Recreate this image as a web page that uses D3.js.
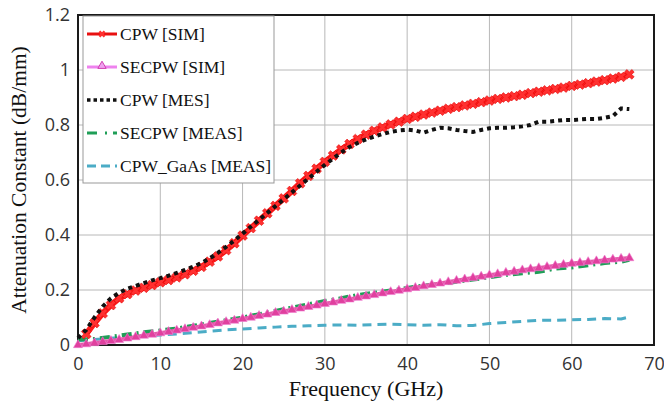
<!DOCTYPE html>
<html>
<head>
<meta charset="utf-8">
<script src="https://cdn.jsdelivr.net/npm/d3@7"></script>
<style>
  body { margin: 0; background: #fff; }
  svg { display: block; }
</style>
</head>
<body>
<svg width="664" height="406"></svg>
<script>
// frequency grid (GHz) shared by the 1 GHz series
var freq = d3.range(0, 68);

// CPW [SIM] - starts at 1 GHz
var cpwSim = [null,0.04,0.08,0.115,0.145,0.17,0.185,0.198,0.208,0.218,0.228,0.236,0.246,0.257,0.27,0.284,0.303,0.322,0.345,0.37,0.398,
  0.425,0.452,0.479,0.506,0.533,0.56,0.588,0.615,0.641,0.666,0.689,0.711,0.731,0.749,0.765,0.779,0.791,0.802,0.812,0.822,
  0.83,0.838,0.845,0.852,0.859,0.865,0.871,0.877,0.883,0.889,0.895,0.9,0.905,0.91,0.916,0.921,0.926,0.931,0.936,0.942,
  0.947,0.952,0.958,0.963,0.969,0.975,0.984];

// SECPW [SIM]
var secpwSim = [0,0.003,0.007,0.011,0.015,0.019,0.024,0.029,0.034,0.038,0.043,0.048,0.053,0.058,0.063,0.068,0.073,0.079,0.084,0.089,0.095,
  0.1,0.106,0.111,0.117,0.122,0.128,0.133,0.139,0.144,0.15,0.155,0.161,0.166,0.172,0.177,0.182,0.188,0.193,0.198,0.203,
  0.208,0.214,0.219,0.224,0.229,0.234,0.239,0.244,0.249,0.254,0.258,0.263,0.267,0.272,0.276,0.28,0.284,0.288,0.292,0.296,
  0.299,0.302,0.305,0.308,0.311,0.314,0.316];

// CPW [MES]
var cpwMes = [0.025,0.055,0.1,0.14,0.17,0.19,0.205,0.215,0.225,0.235,0.243,0.252,0.262,0.273,0.285,0.298,0.315,0.335,0.357,0.38,0.405,
  0.43,0.455,0.48,0.505,0.53,0.555,0.58,0.605,0.63,0.655,0.678,0.7,0.72,0.735,0.748,0.758,0.767,0.775,0.78,0.783,
  0.78,0.772,0.782,0.79,0.788,0.782,0.778,0.775,0.782,0.788,0.79,0.79,0.792,0.795,0.8,0.812,0.812,0.815,0.818,0.818,
  0.82,0.822,0.822,0.826,0.832,0.86,0.858];

// measured series sampled every 2 GHz
var freq2 = [0,2,4,6,8,10,12,14,16,18,20,22,24,26,28,30,32,34,36,38,40,42,44,46,48,50,52,54,56,58,60,62,64,66,67];
var secpwMeas = [0.02,0.022,0.03,0.038,0.046,0.053,0.06,0.07,0.08,0.09,0.1,0.112,0.124,0.136,0.148,0.16,0.17,0.182,0.19,0.198,0.207,
  0.216,0.222,0.23,0.238,0.246,0.255,0.261,0.266,0.278,0.282,0.29,0.298,0.303,0.31];
var gaasMeas = [0.015,0.02,0.025,0.03,0.033,0.036,0.04,0.045,0.05,0.055,0.058,0.062,0.065,0.068,0.07,0.072,0.073,0.072,0.074,0.076,0.074,
  0.072,0.074,0.07,0.071,0.078,0.082,0.086,0.09,0.09,0.092,0.093,0.096,0.095,0.102];

var xTicks = [0,10,20,30,40,50,60,70];
var yTicks = [0,0.2,0.4,0.6,0.8,1,1.2];

var svg = d3.select("svg"),
    margin = {top: 15, right: 10, bottom: 61, left: 78},
    width = +svg.attr("width") - margin.left - margin.right,
    height = +svg.attr("height") - margin.top - margin.bottom,
    g = svg.append("g").attr("transform", "translate(" + margin.left + "," + margin.top + ")");

var x = d3.scaleLinear().domain([0, 70]).range([0, width]);
var y = d3.scaleLinear().domain([0, 1.2]).range([height, 0]);

// grid
g.append("g").selectAll("line").data(xTicks.slice(1, -1)).enter().append("line")
    .attr("x1", function(d) { return x(d); }).attr("x2", function(d) { return x(d); })
    .attr("y1", 0).attr("y2", height)
    .attr("stroke", "#b8b8b8").attr("stroke-width", 1);
g.append("g").selectAll("line").data(yTicks.slice(1, -1)).enter().append("line")
    .attr("y1", function(d) { return y(d); }).attr("y2", function(d) { return y(d); })
    .attr("x1", 0).attr("x2", width)
    .attr("stroke", "#b8b8b8").attr("stroke-width", 1);

// axes labels
var xAxis = g.append("g")
    .attr("transform", "translate(0," + height + ")")
    .call(d3.axisBottom(x).tickValues(xTicks).tickSize(0).tickPadding(12).tickFormat(d3.format("d")));
var yAxis = g.append("g")
    .call(d3.axisLeft(y).tickValues(yTicks).tickSize(0).tickPadding(8).tickFormat(function(d) { return d3.format("")(d); }));
[xAxis, yAxis].forEach(function(a) {
  a.select(".domain").remove();
  a.selectAll("text").attr("font-family", "'Open Sans', sans-serif").attr("font-size", 18).attr("fill", "#333");
});

// plot frame
g.append("rect").attr("width", width).attr("height", height)
    .attr("fill", "none").attr("stroke", "#1a1a1a").attr("stroke-width", 2);

function lineFor(xs) {
  return d3.line()
    .defined(function(d) { return d != null; })
    .x(function(d, i) { return x(xs[i]); })
    .y(function(d) { return y(d); });
}

var plot = g.append("g");

// CPW_GaAs [MEAS]
plot.append("path").datum(gaasMeas).attr("d", lineFor(freq2))
    .attr("fill", "none").attr("stroke", "#4bacc6").attr("stroke-width", 3)
    .attr("stroke-dasharray", "9,6");

// SECPW [MEAS]
plot.append("path").datum(secpwMeas).attr("d", lineFor(freq2))
    .attr("fill", "none").attr("stroke", "#1f9e57").attr("stroke-width", 4)
    .attr("stroke-dasharray", "10,5,2,5");

// SECPW [SIM]
plot.append("path").datum(secpwSim).attr("d", lineFor(freq))
    .attr("fill", "none").attr("stroke", "#e45aa8").attr("stroke-width", 4);
plot.append("g").selectAll("path").data(secpwSim).enter().append("path")
    .attr("transform", function(d, i) { return "translate(" + x(freq[i]) + "," + y(d) + ")"; })
    .attr("d", d3.symbol().type(d3.symbolTriangle).size(36))
    .attr("fill", "#e0409e").attr("stroke", "#f07ad0").attr("stroke-width", 0.6);

// CPW [SIM]
plot.append("path").datum(cpwSim).attr("d", lineFor(freq))
    .attr("fill", "none").attr("stroke", "#ff1a1a").attr("stroke-width", 6);
plot.append("g").selectAll("path").data(cpwSim.map(function(d, i) { return [freq[i], d]; }).filter(function(p) { return p[1] != null; }))
    .enter().append("path")
    .attr("transform", function(p) { return "translate(" + x(p[0]) + "," + y(p[1]) + ") rotate(45)"; })
    .attr("d", d3.symbol().type(d3.symbolCross).size(60))
    .attr("fill", "#ff3030").attr("stroke", "#e00000").attr("stroke-width", 0.5);

// CPW [MES]
plot.append("path").datum(cpwMes).attr("d", lineFor(freq))
    .attr("fill", "none").attr("stroke", "#111").attr("stroke-width", 4)
    .attr("stroke-dasharray", "4,4");

// legend
var legendItems = [
  {name: "CPW [SIM]", color: "#e81010", dash: null, w: 3, marker: "x"},
  {name: "SECPW [SIM]", color: "#ee82ee", dash: null, w: 3, marker: "tri"},
  {name: "CPW [MES]", color: "#111", dash: "3.5,3", w: 3.5},
  {name: "SECPW [MEAS]", color: "#1f9e57", dash: "10,8,2,6", w: 3},
  {name: "CPW_GaAs [MEAS]", color: "#4bacc6", dash: "9,5", w: 3}
];
var legend = svg.append("g").attr("transform", "translate(83,16)");
legend.append("rect").attr("width", 191).attr("height", 167)
    .attr("fill", "#fff").attr("stroke", "#999").attr("stroke-width", 1);
var li = legend.selectAll("g.item").data(legendItems).enter().append("g")
    .attr("class", "item")
    .attr("transform", function(d, i) { return "translate(0," + (18 + i * 33) + ")"; });
li.append("line").attr("x1", 4).attr("x2", 34).attr("y1", 0).attr("y2", 0)
    .attr("stroke", function(d) { return d.color; })
    .attr("stroke-width", function(d) { return d.w; })
    .attr("stroke-dasharray", function(d) { return d.dash; });
li.filter(function(d) { return d.marker === "x"; }).append("path")
    .attr("transform", "translate(19,0) rotate(45)")
    .attr("d", d3.symbol().type(d3.symbolCross).size(30))
    .attr("fill", "#ff3030");
li.filter(function(d) { return d.marker === "tri"; }).append("path")
    .attr("transform", "translate(19,-1)")
    .attr("d", d3.symbol().type(d3.symbolTriangle).size(30))
    .attr("fill", "#f0a0f0").attr("stroke", "#d040b0").attr("stroke-width", 1);
li.append("text").attr("x", 37).attr("y", 0).attr("dy", "0.35em")
    .attr("font-family", "'Liberation Serif', serif").attr("font-size", 17.5).attr("fill", "#111")
    .text(function(d) { return d.name; });

// axis titles
svg.append("text")
    .attr("x", margin.left + width / 2).attr("y", 396)
    .attr("text-anchor", "middle")
    .attr("font-family", "'Liberation Serif', serif").attr("font-size", 22).attr("fill", "#111")
    .text("Frequency (GHz)");
svg.append("text")
    .attr("transform", "translate(26,180) rotate(-90)")
    .attr("text-anchor", "middle")
    .attr("font-family", "'Liberation Serif', serif").attr("font-size", 21.5).attr("fill", "#111")
    .text("Attenuation Constant (dB/mm)");
</script>
</body>
</html>
